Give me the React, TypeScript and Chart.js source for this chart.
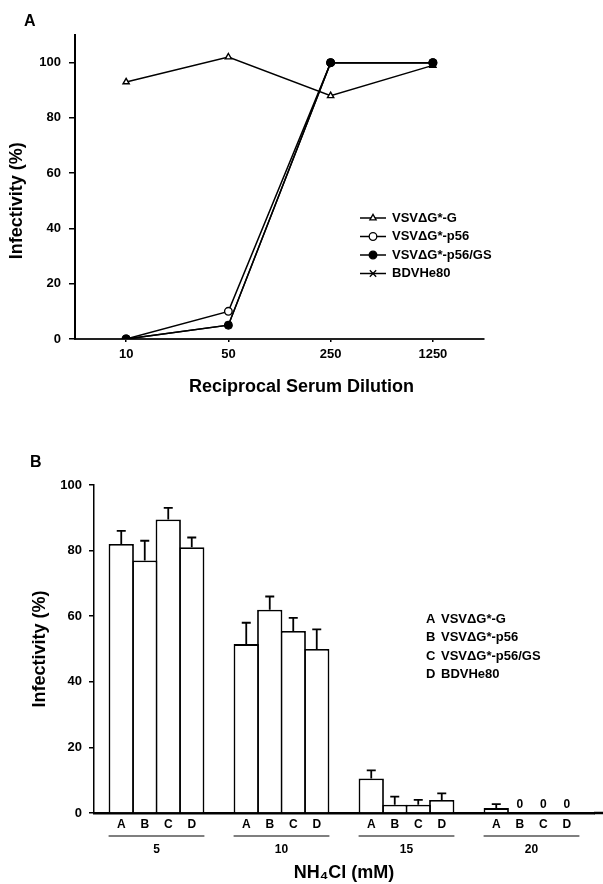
import React, { useEffect, useRef } from "react";
import { Chart, registerables } from "chart.js";
import { drawPoint } from "chart.js/helpers";

Chart.register(...registerables);

const FONT = "'Liberation Sans', Arial, Helvetica, sans-serif";
Chart.defaults.font.family = FONT;
Chart.defaults.color = "#000";

// ---------- Panel A data ----------
const dilutions = ["10", "50", "250", "1250"];
const seriesNames = ["VSVΔG*-G", "VSVΔG*-p56", "VSVΔG*-p56/GS", "BDVHe80"];
const infG = [93, 102, 88, 99];
const infP56 = [0, 10, 100, 100];
const infP56GS = [0, 5, 100, 100];
const infBDV = [0, 5, 100, 100];
const yTicksA = [0, 20, 40, 60, 80, 100];

// ---------- Panel B data ----------
const nh4cl = ["5", "10", "15", "20"];
const barLetters = ["A", "B", "C", "D"];
const barNames = ["VSVΔG*-G", "VSVΔG*-p56", "VSVΔG*-p56/GS", "BDVHe80"];
const barA = [82, 51.5, 10.5, 1.5];
const barB = [77, 62, 2.5, 0];
const barC = [89.5, 55.5, 2.5, 0];
const barD = [81, 50, 4, 0];
const errA = [4, 6.5, 2.5, 1.2];
const errB = [6, 4, 2.5, 0];
const errC = [3.5, 4, 1.5, 0];
const errD = [3, 6, 2, 0];
const yTicksB = [0, 20, 40, 60, 80, 100];

const markerStyles = [
  { pointStyle: "triangle", radius: 3.6, fill: "#fff", order: 4 },
  { pointStyle: "circle", radius: 3.8, fill: "#fff", order: 3 },
  { pointStyle: "circle", radius: 3.8, fill: "#000", order: 2 },
  { pointStyle: "crossRot", radius: 4.5, fill: "#000", order: 1 },
];

const legendA = {
  id: "legendA",
  afterDraw(chart: any) {
    const ctx = chart.ctx;
    const x0 = 360;
    const y0 = 218;
    const gap = 18.5;
    ctx.save();
    chart.data.datasets.forEach((ds: any, i: number) => {
      const y = y0 + i * gap;
      const m = markerStyles[i];
      ctx.strokeStyle = "#000";
      ctx.lineWidth = 1.5;
      ctx.beginPath();
      ctx.moveTo(x0, y);
      ctx.lineTo(x0 + 26, y);
      ctx.stroke();
      ctx.fillStyle = m.fill;
      ctx.lineWidth = 1.3;
      drawPoint(ctx, { pointStyle: m.pointStyle, radius: m.radius, borderWidth: 1.3, rotation: 0 } as any, x0 + 13, y);
      ctx.fillStyle = "#000";
      ctx.font = `bold 13px ${FONT}`;
      ctx.textAlign = "left";
      ctx.textBaseline = "middle";
      ctx.fillText(ds.label, x0 + 32, y);
    });
    ctx.restore();
  },
};

const titlesA = {
  id: "titlesA",
  afterDraw(chart: any) {
    const ctx = chart.ctx;
    const ca = chart.chartArea;
    const ys = chart.scales.y;
    ctx.save();
    ctx.fillStyle = "#000";
    ctx.font = `bold 18px ${FONT}`;
    ctx.textAlign = "center";
    ctx.textBaseline = "middle";
    ctx.fillText("Reciprocal Serum Dilution", chart.width / 2, ca.bottom + 48);
    ctx.translate(ca.left - 58, ys.getPixelForValue(50));
    ctx.rotate(-Math.PI / 2);
    ctx.fillText("Infectivity (%)", 0, 0);
    ctx.restore();
  },
};

const errorBars = {
  id: "errorBars",
  afterDatasetsDraw(chart: any) {
    const ctx = chart.ctx;
    const ys = chart.scales.y;
    ctx.save();
    ctx.strokeStyle = "#000";
    ctx.lineWidth = 1.8;
    chart.data.datasets.forEach((ds: any, di: number) => {
      const meta = chart.getDatasetMeta(di);
      meta.data.forEach((bar: any, j: number) => {
        const e = ds.errors[j];
        if (!e) return;
        const yt = ys.getPixelForValue(ds.data[j] + e);
        ctx.beginPath();
        ctx.moveTo(bar.x, bar.y);
        ctx.lineTo(bar.x, yt);
        ctx.moveTo(bar.x - 4.5, yt);
        ctx.lineTo(bar.x + 4.5, yt);
        ctx.stroke();
      });
    });
    ctx.restore();
  },
};

const barDecor = {
  id: "barDecor",
  afterDraw(chart: any) {
    const ctx = chart.ctx;
    const ca = chart.chartArea;
    ctx.save();
    // axis line continues to the right edge
    ctx.strokeStyle = "#000";
    ctx.lineWidth = 2.5;
    ctx.beginPath();
    ctx.moveTo(ca.right, ca.bottom);
    ctx.lineTo(chart.width, ca.bottom);
    ctx.stroke();

    ctx.fillStyle = "#000";
    ctx.font = `bold 12px ${FONT}`;
    ctx.textAlign = "center";
    ctx.textBaseline = "middle";
    chart.data.labels.forEach((_: any, j: number) => {
      let left = Infinity;
      let right = -Infinity;
      chart.data.datasets.forEach((ds: any, di: number) => {
        const bar: any = chart.getDatasetMeta(di).data[j];
        ctx.fillText(barLetters[di], bar.x, ca.bottom + 12);
        if (ds.data[j] === 0) ctx.fillText("0", bar.x, ca.bottom - 8);
        left = Math.min(left, bar.x - bar.width / 2);
        right = Math.max(right, bar.x + bar.width / 2);
      });
      ctx.lineWidth = 1.2;
      ctx.beginPath();
      ctx.moveTo(left, ca.bottom + 23);
      ctx.lineTo(right, ca.bottom + 23);
      ctx.stroke();
    });

    // legend
    ctx.font = `bold 13px ${FONT}`;
    ctx.textAlign = "left";
    barLetters.forEach((l, i) => {
      const y = 189 + i * 18.5;
      ctx.fillText(l, 426, y);
      ctx.fillText(barNames[i], 441, y);
    });
    ctx.restore();
  },
};

export default function App() {
  const refA = useRef<HTMLCanvasElement>(null);
  const refB = useRef<HTMLCanvasElement>(null);

  useEffect(() => {
    const seriesA = [infG, infP56, infP56GS, infBDV];
    const chartA = new Chart(refA.current as HTMLCanvasElement, {
      type: "line",
      data: {
        labels: dilutions,
        datasets: seriesA.map((d, i) => ({
          label: seriesNames[i],
          data: d,
          order: markerStyles[i].order,
          borderColor: "#000",
          borderWidth: 1.5,
          pointStyle: markerStyles[i].pointStyle as any,
          pointRadius: markerStyles[i].radius,
          pointBackgroundColor: markerStyles[i].fill,
          pointBorderColor: "#000",
          pointBorderWidth: 1.4,
          tension: 0,
          fill: false,
        })),
      },
      options: {
        animation: false,
        responsive: false,
        maintainAspectRatio: false,
        devicePixelRatio: 1,
        layout: { padding: { left: 0, top: 35, right: 119, bottom: 0 } },
        plugins: { legend: { display: false }, tooltip: { enabled: false } },
        scales: {
          x: {
            type: "category",
            offset: true,
            grid: { drawOnChartArea: false, offset: false, tickLength: 3, color: "#000", lineWidth: 1.5 },
            border: { color: "#222", width: 2 },
            ticks: { padding: 5, font: { size: 13, weight: "bold" }, color: "#000", maxRotation: 0 },
            afterFit: (s: any) => { s.height = 81; },
          },
          y: {
            min: 0,
            max: 110,
            grid: { drawOnChartArea: false, tickLength: 6, color: "#000", lineWidth: 1.5 },
            border: { color: "#000", width: 2 },
            ticks: { padding: 8, font: { size: 13, weight: "bold" }, color: "#000" },
            afterBuildTicks: (s: any) => { s.ticks = yTicksA.map((v) => ({ value: v })); },
            afterFit: (s: any) => { s.width = 75; },
          },
        },
      },
      plugins: [legendA, titlesA],
    } as any);

    const barsB = [barA, barB, barC, barD];
    const errsB = [errA, errB, errC, errD];
    const chartB = new Chart(refB.current as HTMLCanvasElement, {
      type: "bar",
      data: {
        labels: nh4cl,
        datasets: barsB.map((d, i) => ({
          label: barNames[i],
          data: d,
          errors: errsB[i],
          backgroundColor: "#fff",
          borderColor: "#000",
          borderWidth: 1.8,
          borderSkipped: "start",
          categoryPercentage: 0.752,
          barPercentage: 1.077,
        })),
      },
      options: {
        animation: false,
        responsive: false,
        maintainAspectRatio: false,
        devicePixelRatio: 1,
        layout: { padding: { left: 0, top: 55, right: 9, bottom: 0 } },
        plugins: { legend: { display: false }, tooltip: { enabled: false } },
        scales: {
          x: {
            type: "category",
            offset: true,
            grid: { drawOnChartArea: false, drawTicks: false },
            border: { color: "#000", width: 2.5 },
            ticks: { padding: 29, font: { size: 12, weight: "bold" }, color: "#000", maxRotation: 0 },
            title: { display: true, text: "NH₄Cl (mM)", font: { size: 18, weight: "bold" }, color: "#000", padding: { top: 0, bottom: 0 } },
            afterFit: (s: any) => { s.height = 71; },
          },
          y: {
            min: 0,
            max: 100,
            grid: { drawOnChartArea: false, tickLength: 5, color: "#000", lineWidth: 1.5 },
            border: { color: "#000", width: 1.5 },
            ticks: { padding: 7, font: { size: 13, weight: "bold" }, color: "#000" },
            title: { display: true, text: "Infectivity (%)", font: { size: 18, weight: "bold" }, color: "#000", padding: { top: 29, bottom: 0 } },
            afterBuildTicks: (s: any) => { s.ticks = yTicksB.map((v) => ({ value: v })); },
            afterFit: (s: any) => { s.width = 94; },
          },
        },
      },
      plugins: [errorBars, barDecor],
    } as any);

    return () => {
      chartA.destroy();
      chartB.destroy();
    };
  }, []);

  return (
    <div style={{ position: "fixed", left: 0, top: 0, width: 603, height: 884, background: "#fff", overflow: "hidden" }}>
      <canvas ref={refA} width={603} height={420} style={{ position: "absolute", left: 0, top: 0, width: 603, height: 420 }} />
      <canvas ref={refB} width={603} height={454} style={{ position: "absolute", left: 0, top: 430, width: 603, height: 454 }} />
      <div style={{ position: "absolute", left: 24, top: 12, font: `bold 16px ${FONT}`, color: "#000", lineHeight: "normal" }}>A</div>
      <div style={{ position: "absolute", left: 30, top: 453, font: `bold 16px ${FONT}`, color: "#000", lineHeight: "normal" }}>B</div>
    </div>
  );
}
